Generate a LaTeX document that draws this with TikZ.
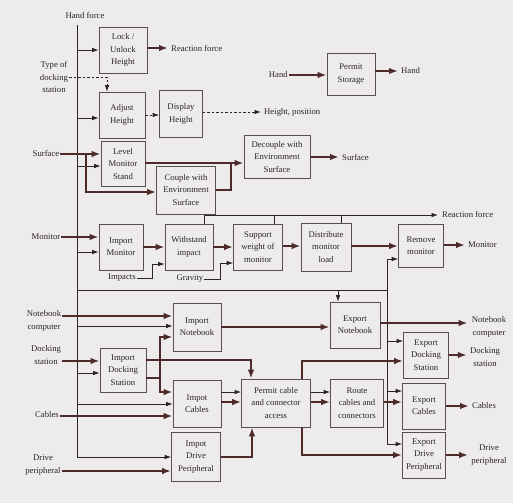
\documentclass[tikz,border=0pt]{standalone}
\usepackage{fontspec}
\setmainfont{Liberation Serif}
\usetikzlibrary{arrows.meta}
\definecolor{paper}{HTML}{EDEBEB}
\definecolor{ink}{HTML}{2B2525}
\definecolor{flowc}{HTML}{4E2A2A}
\definecolor{boxc}{HTML}{585050}
\newcommand\dfont{\fontsize{8.7}{12.2}\selectfont}
\begin{document}
\begin{tikzpicture}[x=1pt,y=-1pt,
 fbox/.style={draw=boxc, line width=0.6pt, fill=paper, text=ink, align=center, inner sep=1pt, font=\dfont},
 lbl/.style={text=ink, align=center, inner sep=1pt, font=\dfont},
 hl/.style={draw=ink, line width=0.75pt},
 hla/.style={hl, -{Latex[length=6.5pt,width=4.5pt]}},
 mf/.style={draw=flowc, line width=2.4pt},
 mfa/.style={mf, -{Latex[length=9pt,width=6.5pt]}},
 sa/.style={draw=ink, line width=0.75pt, dash pattern=on 2.5pt off 2pt, -{Latex[length=6.5pt,width=4.5pt]}}]
\fill[paper] (0,0) rectangle (513,503);
\useasboundingbox (0,0) rectangle (513,503);
\begin{scope}[yshift=-10pt]
% ---------- boxes ----------
\node[fbox,minimum width=48pt,minimum height=46pt] (lock) at (123,40) {Lock /\\Unlock\\Height};
\node[fbox,minimum width=46pt,minimum height=46pt] (adjust) at (122,105) {Adjust\\Height};
\node[fbox,minimum width=43pt,minimum height=47pt] (display) at (181,104) {Display\\Height};
\node[fbox,minimum width=44pt,minimum height=45pt] (level) at (123,154) {Level\\Monitor\\Stand};
\node[fbox,minimum width=59pt,minimum height=48pt] (couple) at (186,180) {Couple with\\Environment\\Surface};
\node[fbox,minimum width=66pt,minimum height=43pt] (decouple) at (277,147) {Decouple with\\Environment\\Surface};
\node[fbox,minimum width=48pt,minimum height=42pt] (storage) at (351,64) {Permit\\Storage};
\node[fbox,minimum width=44pt,minimum height=46pt] (imon) at (121,237) {Import\\Monitor};
\node[fbox,minimum width=48pt,minimum height=46pt] (withstand) at (189,237) {Withstand\\impact};
\node[fbox,minimum width=49pt,minimum height=46pt] (support) at (258,237) {Support\\weight of\\monitor};
\node[fbox,minimum width=50pt,minimum height=48pt] (distribute) at (326,237) {Distribute\\monitor\\load};
\node[fbox,minimum width=45pt,minimum height=43pt] (remove) at (421,236) {Remove\\monitor};
\node[fbox,minimum width=48pt,minimum height=48pt] (inote) at (197,317) {Import\\Notebook};
\node[fbox,minimum width=50pt,minimum height=46pt] (enote) at (355,315) {Export\\Notebook};
\node[fbox,minimum width=45pt,minimum height=46pt] (edock) at (426,345) {Export\\Docking\\Station};
\node[fbox,minimum width=46pt,minimum height=44pt] (idock) at (123,360) {Import\\Docking\\Station};
\node[fbox,minimum width=48pt,minimum height=47pt] (icables) at (197,394) {Impot\\Cables};
\node[fbox,minimum width=69pt,minimum height=48pt] (permit) at (276,393) {Permit cable\\and connector\\access};
\node[fbox,minimum width=53pt,minimum height=48pt] (route) at (357,393) {Route\\cables and\\connectors};
\node[fbox,minimum width=43pt,minimum height=46pt] (ecables) at (424,396) {Export\\Cables};
\node[fbox,minimum width=49pt,minimum height=49pt] (idrive) at (196,447) {Impot\\Drive\\Peripheral};
\node[fbox,minimum width=43pt,minimum height=46pt] (edrive) at (424,445) {Export\\Drive\\Peripheral};
% ---------- labels ----------
\node[lbl] (lHandF) at (85,5) {Hand force};
\node[lbl,anchor=west] (lReact1) at (170,38) {Reaction force};
\node[lbl] (lType) at (54,67) {Type of\\docking\\station};
\node[lbl,anchor=west] (lHeight) at (263,102) {Height, position};
\node[lbl,anchor=east] (lHandIn) at (289,65) {Hand};
\node[lbl,anchor=west] (lHandOut) at (400,61) {Hand};
\node[lbl] (lSurfIn) at (46,143) {Surface};
\node[lbl,anchor=west] (lSurfOut) at (341,147) {Surface};
\node[lbl] (lMonIn) at (46,227) {Monitor};
\node[lbl] (lImpacts) at (122,268) {Impacts};
\node[lbl] (lGravity) at (190,269) {Gravity};
\node[lbl,anchor=west] (lReact2) at (441,204) {Reaction force};
\node[lbl,anchor=west] (lMonOut) at (467,235) {Monitor};
\node[lbl] (lNoteIn) at (44,311) {Notebook\\computer};
\node[lbl] (lNoteOut) at (489,317) {Notebook\\computer};
\node[lbl] (lDockIn) at (46,345) {Docking\\station};
\node[lbl] (lDockOut) at (485,347) {Docking\\station};
\node[lbl] (lCabIn) at (47,405) {Cables};
\node[lbl,anchor=west] (lCabOut) at (471,396) {Cables};
\node[lbl] (lDriveIn) at (43,455) {Drive\\peripheral};
\node[lbl] (lDriveOut) at (489,445) {Drive\\peripheral};
% ---------- hand force (thin) ----------
\coordinate (trunkTop) at (77,15);
\draw[hla] (trunkTop) -- (trunkTop |- idrive.west) -- (idrive.west);
\draw[hla] (trunkTop |- lock.west) -- (lock.west);
\draw[hla] (trunkTop |- 0,108) -- (adjust.west |- 0,108);
\draw[hla] (trunkTop |- 0,156) -- (level.west |- 0,156);
\draw[hla] (trunkTop |- 0,242) -- (imon.west |- 0,242);
\draw[hla] (trunkTop |- 0,316) -- (inote.west |- 0,316);
\draw[hla] (trunkTop |- 0,363) -- (idock.west |- 0,363);
\draw[hla] (trunkTop |- 0,394) -- (icables.west |- 0,394);
\coordinate (dj) at (387,280);
\draw[hl] (trunkTop |- dj) -- (dj);
\draw[hla] (dj -| 338,0) -- (enote.north -| 338,0);
\draw[hl] (dj |- 0,249) -- (dj |- 0,434);
\draw[hla] (dj |- 0,249) -- (remove.west |- 0,249);
\draw[hla] (dj |- 0,331) -- (edock.west |- 0,331);
\draw[hla] (dj |- 0,381) -- (ecables.west |- 0,381);
\draw[hla] (dj |- 0,434) -- (edrive.west |- 0,434);
% reaction force (thin)
\coordinate (rf) at (204,205);
\draw[hla,shorten >=3pt] (withstand.north -| rf) -- (rf) -- (rf -| lReact2.west);
\draw[hl] (support.north -| 274,0) -- (274,205);
\draw[hl] (distribute.north -| 341,0) -- (341,205);
% impacts, gravity
\draw[hla] (lImpacts.east) -- (152,268) -- (152,254) -- (withstand.west |- 0,254);
\draw[hla] (lGravity.east) -- (220,269) -- (220,253) -- (support.west |- 0,253);
% ---------- signals (dashed) ----------
\draw[sa] (lType.east |- 0,67) -- (107,67) -- (adjust.north -| 107,0);
\draw[sa] (adjust.east) -- (display.west |- adjust.east);
\draw[sa,shorten >=2pt] (display.east |- lHeight.west) -- (lHeight.west);
% ---------- material flows (thick) ----------
\draw[mfa,shorten >=2pt] (lock.east |- lReact1.west) -- (lReact1.west);
\draw[mfa] (lHandIn.east) -- (storage.west |- lHandIn.east);
\draw[mfa,shorten >=2pt] (storage.east |- lHandOut.west) -- (lHandOut.west);
\coordinate (sj) at (86,144);
\draw[mfa] (lSurfIn.east |- sj) -- (level.west |- sj);
\draw[mfa] (sj) -- (sj |- 0,182) -- (couple.west |- 0,182);
\draw[mfa] (level.east |- 0,153) -- (decouple.west |- 0,153);
\draw[mf] (couple.east) -- (couple.east -| 231,0) -- (231,153);
\draw[mfa,shorten >=2pt] (decouple.east) -- (lSurfOut.west);
% monitor
\draw[mfa] (lMonIn.east) -- (imon.west |- lMonIn.east);
\draw[mfa] (imon.east) -- (withstand.west);
\draw[mfa] (withstand.east) -- (support.west);
\draw[mfa] (support.east |- 0,236) -- (distribute.west |- 0,236);
\draw[mfa] (distribute.east |- 0,236) -- (remove.west |- 0,236);
\draw[mfa,shorten >=2pt] (remove.east |- lMonOut.west) -- (lMonOut.west);
% notebook
\draw[mfa] (lNoteIn.east |- 0,306) -- (inote.west |- 0,306);
\draw[mfa] (inote.east |- 0,317) -- (enote.west |- 0,317);
\draw[mfa,shorten >=3pt] (enote.east |- 0,313) -- (lNoteOut.west |- 0,313);
% docking station
\draw[mfa] (lDockIn.east |- 0,351) -- (idock.west |- 0,351);
\draw[mfa] (idock.east |- 0,350) -- (251,350) -- (permit.north -| 251,0);
\coordinate (dk) at (160,368);
\draw[mf] (idock.east |- dk) -- (dk);
\draw[mfa] (dk) -- (dk |- 0,327) -- (inote.west |- 0,327);
\draw[mfa] (dk) -- (dk |- 0,382) -- (icables.west |- 0,382);
\draw[mfa] (permit.north -| 302,0) -- (302,351) -- (edock.west |- 0,351);
\draw[mfa,shorten >=2pt] (edock.east) -- (lDockOut.west |- edock.east);
% cables
\draw[mfa] (lCabIn.east |- 0,406) -- (icables.west |- 0,406);
\draw[hla] (icables.east |- 0,382) -- (permit.west |- 0,382);
\draw[mfa] (icables.east |- 0,392) -- (permit.west |- 0,392);
\draw[hla] (permit.east |- 0,382) -- (route.west |- 0,382);
\draw[mfa] (permit.east |- 0,392) -- (route.west |- 0,392);
\draw[mfa] (route.east |- 0,392) -- (ecables.west |- 0,392);
\draw[mfa,shorten >=2pt] (ecables.east |- lCabOut.west) -- (lCabOut.west);
% drive peripheral
\draw[mfa] (lDriveIn.east |- 0,461) -- (idrive.west |- 0,461);
\draw[mfa] (idrive.east) -- (idrive.east -| 252,0) -- (permit.south -| 252,0);
\draw[mfa] (permit.south -| 302,0) -- (302,445) -- (edrive.west |- 0,445);
\draw[mfa,shorten >=2pt] (edrive.east) -- (lDriveOut.west |- edrive.east);
\end{scope}
\end{tikzpicture}
\end{document}
